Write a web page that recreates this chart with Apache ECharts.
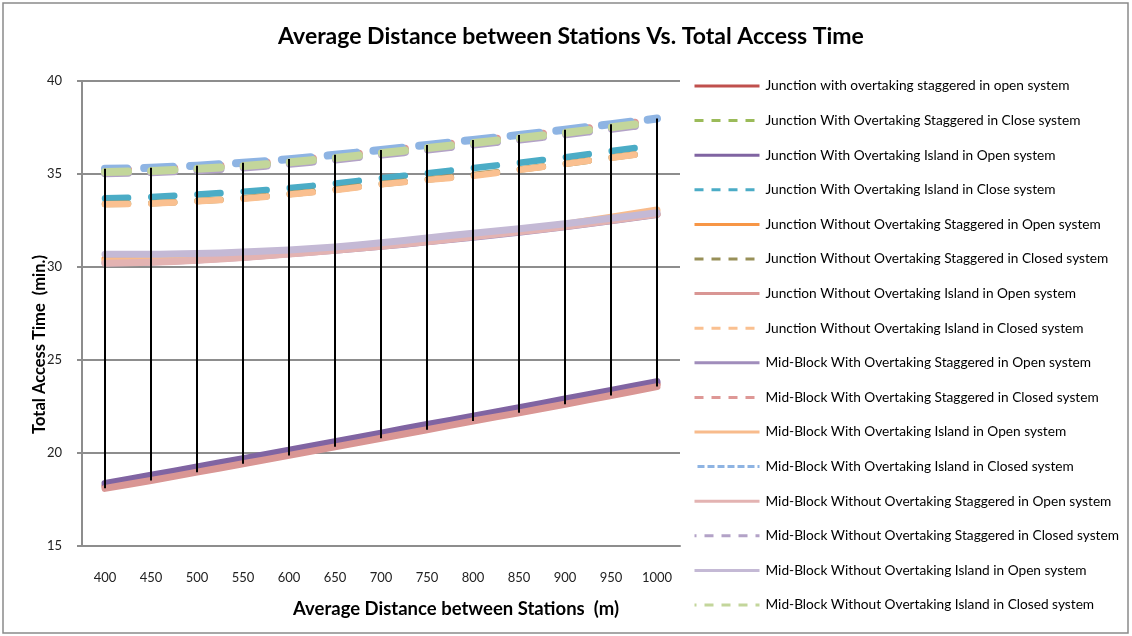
<!DOCTYPE html>
<html>
<head>
<meta charset="utf-8">
<script src="https://cdn.jsdelivr.net/npm/echarts@6/dist/echarts.min.js"></script>
<style>
html,body{margin:0;padding:0;background:#fff;}
#chart{width:1132px;height:636px;}
</style>
</head>
<body>
<div id="chart"></div>
<script>
var categories = ['400','450','500','550','600','650','700','750','800','850','900','950','1000'];

var seriesNames = [
  'Junction with overtaking staggered in open system',
  'Junction With Overtaking Staggered in Close system',
  'Junction With Overtaking Island in Open system',
  'Junction With Overtaking Island in Close system',
  'Junction Without Overtaking Staggered in Open system',
  'Junction Without Overtaking Staggered in Closed system',
  'Junction Without Overtaking Island in Open system',
  'Junction Without Overtaking Island in Closed system',
  'Mid-Block With Overtaking Staggered in Open system',
  'Mid-Block With Overtaking Staggered in Closed system',
  'Mid-Block With Overtaking Island in Open system',
  'Mid-Block With Overtaking Island in Closed system',
  'Mid-Block Without Overtaking Staggered in Open system',
  'Mid-Block Without Overtaking Staggered in Closed system',
  'Mid-Block Without Overtaking Island in Open system',
  'Mid-Block Without Overtaking Island in Closed system'
];

var jWithStagOpen     = [18.22, 18.66, 19.11, 19.56, 20.01, 20.47, 20.93, 21.39, 21.85, 22.30, 22.76, 23.23, 23.70];
var jWithStagClose    = [35.14, 35.19, 35.30, 35.45, 35.65, 35.88, 36.14, 36.41, 36.68, 36.95, 37.23, 37.53, 37.83];
var jWithIslOpen      = [18.36, 18.80, 19.25, 19.70, 20.15, 20.61, 21.07, 21.53, 21.98, 22.44, 22.90, 23.37, 23.84];
var jWithIslClose     = [33.69, 33.76, 33.90, 34.05, 34.24, 34.49, 34.77, 35.04, 35.32, 35.60, 35.90, 36.23, 36.55];
var jWoStagOpen       = [30.45, 30.45, 30.52, 30.62, 30.76, 30.93, 31.14, 31.38, 31.64, 31.91, 32.20, 32.52, 32.85];
var jWoStagClosed     = [33.39, 33.43, 33.55, 33.69, 33.92, 34.16, 34.46, 34.70, 34.94, 35.24, 35.55, 35.88, 36.20];
var jWoIslOpen        = [18.10, 18.52, 18.97, 19.42, 19.87, 20.33, 20.79, 21.25, 21.72, 22.16, 22.62, 23.09, 23.57];
var jWoIslClosed      = [33.37, 33.41, 33.53, 33.67, 33.90, 34.14, 34.44, 34.68, 34.90, 35.22, 35.54, 35.87, 36.18];
var mWithStagOpen     = [30.22, 30.27, 30.38, 30.53, 30.71, 30.90, 31.11, 31.35, 31.60, 31.87, 32.16, 32.48, 32.82];
var mWithStagClosed   = [35.20, 35.25, 35.37, 35.52, 35.72, 35.95, 36.21, 36.48, 36.75, 37.02, 37.30, 37.60, 37.90];
var mWithIslOpen      = [30.32, 30.36, 30.46, 30.60, 30.78, 30.97, 31.18, 31.42, 31.70, 31.98, 32.30, 32.68, 33.06];
var mWithIslClosed    = [35.28, 35.33, 35.45, 35.60, 35.80, 36.03, 36.29, 36.56, 36.83, 37.10, 37.38, 37.68, 37.98];
var mWoStagOpen       = [30.20, 30.25, 30.36, 30.51, 30.70, 30.90, 31.12, 31.36, 31.62, 31.89, 32.18, 32.50, 32.84];
var mWoStagClosed     = [35.04, 35.09, 35.20, 35.35, 35.55, 35.78, 36.04, 36.31, 36.58, 36.85, 37.13, 37.43, 37.73];
var mWoIslOpen        = [30.68, 30.68, 30.72, 30.80, 30.92, 31.08, 31.30, 31.56, 31.82, 32.06, 32.33, 32.62, 32.92];
var mWoIslClosed      = [35.11, 35.16, 35.28, 35.43, 35.63, 35.86, 36.12, 36.39, 36.66, 36.93, 37.21, 37.51, 37.81];

var yTicks = [15, 20, 25, 30, 35, 40];

var allValues = [jWithStagOpen, jWithStagClose, jWithIslOpen, jWithIslClose, jWoStagOpen, jWoStagClosed,
  jWoIslOpen, jWoIslClosed, mWithStagOpen, mWithStagClosed, mWithIslOpen, mWithIslClosed,
  mWoStagOpen, mWoStagClosed, mWoIslOpen, mWoIslClosed];

var colors = ['#C0504D','#9BBB59','#8064A2','#4BACC6','#F79646','#989058','#D99694','#FAC090',
  '#A08DBB','#DE9896','#F8BB8C','#8EB4E3','#E3B3B2','#B3A2C7','#C4B9D5','#C3D69B'];
var dashed = [false,true,false,true,false,true,false,true,false,true,false,true,false,true,false,true];

var FONT = 'Lato';

var series = allValues.map(function (vals, i) {
  var ls = { color: colors[i], width: 7, cap: 'round', join: 'round' };
  if (dashed[i]) {
    if (i === 11) { ls.type = [29, 17]; ls.dashOffset = 7; ls.width = 8; }
    else if (i === 3 || i === 5 || i === 7) { ls.type = [23, 23.3]; ls.width = 6.5; }
    else { ls.type = [23, 23.3]; ls.width = 8; }
  }
  return {
    name: seriesNames[i], type: 'line', data: vals, symbol: 'none', smooth: 0.2,
    lineStyle: ls, emphasis: { disabled: true }, z: 2
  };
});

var hiLo = categories.map(function (c, k) {
  var lo = Infinity, hi = -Infinity;
  allValues.forEach(function (v) { lo = Math.min(lo, v[k]); hi = Math.max(hi, v[k]); });
  return [k, lo, hi];
});

series.push({
  type: 'custom', name: 'hilo', data: hiLo, z: 5, silent: true,
  renderItem: function (params, api) {
    var a = api.coord([api.value(0), api.value(1)]);
    var b = api.coord([api.value(0), api.value(2)]);
    return { type: 'line', shape: { x1: a[0], y1: a[1], x2: b[0], y2: b[1] },
      style: { stroke: '#000', lineWidth: 2 } };
  }
});

var legendData = seriesNames.map(function (n, i) {
  var ls = { width: 3, cap: 'butt', color: colors[i] };
  ls.type = dashed[i] ? (i === 11 ? [7, 3] : [9, 8]) : 'solid';
  return { name: n, lineStyle: ls, itemStyle: { opacity: 0 } };
});

var chart = echarts.init(document.getElementById('chart'), null, { renderer: 'canvas' });
chart.setOption({
  animation: false,
  backgroundColor: '#fff',
  color: colors,
  title: {
    text: 'Average Distance between Stations Vs. Total Access Time',
    left: 571, top: 25, textAlign: 'center', padding: 0,
    textStyle: { fontFamily: FONT, fontWeight: 'bold', fontSize: 23, color: '#000' }
  },
  graphic: [{
    type: 'rect', shape: { x: 3, y: 3, width: 1125, height: 630 },
    style: { fill: 'none', stroke: '#8a8a8a', lineWidth: 1.5 }, silent: true, z: -1
  }],
  grid: { left: 82, right: 452, top: 81, bottom: 90, containLabel: false },
  legend: {
    orient: 'vertical', left: 693, top: 79, padding: 0,
    itemWidth: 65, itemHeight: 14, itemGap: 20.6,
    data: legendData,
    selectedMode: false,
    itemStyle: { opacity: 0 },
    textStyle: { fontFamily: FONT, fontSize: 13.7, color: '#000', lineHeight: 14, padding: [0, 0, 0, 1] }
  },
  xAxis: {
    type: 'category', data: categories, boundaryGap: true,
    name: 'Average Distance between Stations  (m)', nameLocation: 'middle', nameGap: 54,
    nameTextStyle: { fontFamily: FONT, fontWeight: 'bold', fontSize: 18.5, color: '#000', padding: [0, 0, 0, 150] },
    axisLine: { lineStyle: { color: '#8d8d8d', width: 2 } },
    axisTick: { show: false },
    axisLabel: { fontFamily: FONT, fontSize: 13, color: '#222', margin: 25 },
    splitLine: { show: false }
  },
  yAxis: {
    type: 'value', min: yTicks[0], max: yTicks[yTicks.length - 1], interval: 5,
    name: 'Total Access Time  (min.)', nameLocation: 'middle', nameGap: 34, nameRotate: 90,
    nameMoveOverlap: false,
    nameTextStyle: { fontFamily: FONT, fontWeight: 'bold', fontSize: 16.5, color: '#000', padding: [0, 62, 0, 0] },
    axisLine: { show: true, lineStyle: { color: '#8d8d8d', width: 2 } },
    axisTick: { show: true, length: 5, lineStyle: { color: '#8d8d8d', width: 2 } },
    axisLabel: { fontFamily: FONT, fontSize: 13, color: '#222', margin: 20 },
    splitLine: { show: true, lineStyle: { color: '#8d8d8d', width: 2 } }
  },
  series: series
});
</script>
</body>
</html>
